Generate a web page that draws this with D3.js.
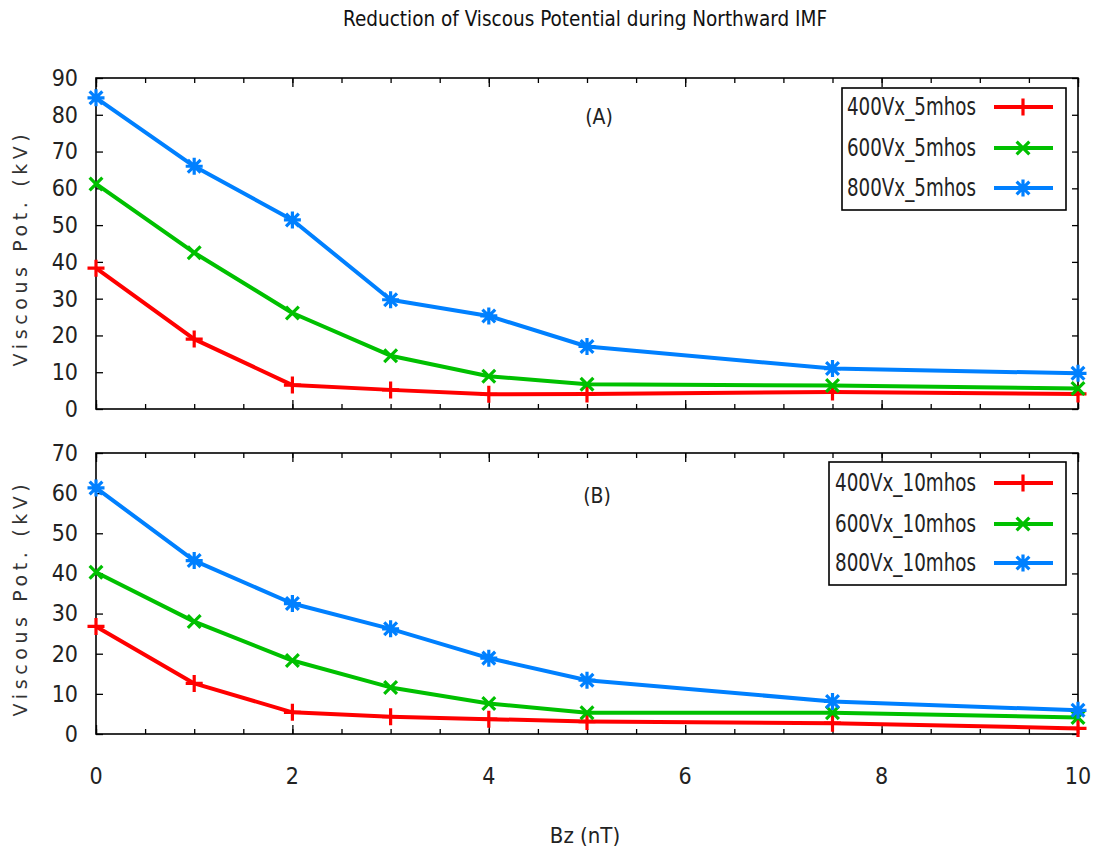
<!DOCTYPE html>
<html>
<head>
<meta charset="utf-8">
<script src="https://cdn.jsdelivr.net/npm/d3@7"></script>
<style>
  body { margin: 0; background: #fff; }
  svg { display: block; }
  .cond { font-family: "Liberation Sans Narrow", "DejaVu Sans Condensed", "Roboto Condensed", sans-serif; }
</style>
</head>
<body>
<svg id="chart" width="1093" height="857"></svg>
<script>
// ---- Data ----
const bz = [0, 1, 2, 3, 4, 5, 7.5, 10];
const seriesNamesA = ["400Vx_5mhos", "600Vx_5mhos", "800Vx_5mhos"];
const seriesNamesB = ["400Vx_10mhos", "600Vx_10mhos", "800Vx_10mhos"];
const a400 = [38.3, 19.0, 6.5, 5.2, 4.0, 4.1, 4.6, 4.1];
const a600 = [61.2, 42.5, 26.1, 14.5, 8.9, 6.7, 6.4, 5.6];
const a800 = [84.6, 66.0, 51.4, 29.7, 25.3, 17.0, 11.0, 9.7];
const b400 = [26.8, 12.6, 5.4, 4.3, 3.7, 3.1, 2.7, 1.4];
const b600 = [40.3, 28.0, 18.3, 11.6, 7.6, 5.3, 5.3, 4.1];
const b800 = [61.3, 43.2, 32.5, 26.2, 18.9, 13.4, 8.1, 5.9];
const yTicksA = [0, 10, 20, 30, 40, 50, 60, 70, 80, 90];
const yTicksB = [0, 10, 20, 30, 40, 50, 60, 70];
const xTickLabels = [0, 2, 4, 6, 8, 10];
const colors = ["#ff0000", "#00c000", "#0080ff"];
const markers = ["plus", "cross", "star"];

const svg = d3.select("#chart");
const left = 96, right = 1078;
const x = d3.scaleLinear().domain([0, 10]).range([left, right]);

function markerPath(type, s) {
  const p = d3.path();
  if (type === "plus" || type === "star") {
    p.moveTo(-s, 0); p.lineTo(s, 0);
    p.moveTo(0, -s); p.lineTo(0, s);
  }
  if (type === "cross" || type === "star") {
    const d = s * 0.75;
    p.moveTo(-d, -d); p.lineTo(d, d);
    p.moveTo(-d, d); p.lineTo(d, -d);
  }
  return p.toString();
}

function panel(cfg) {
  const y = d3.scaleLinear().domain([0, cfg.ymax]).range([cfg.bottom, cfg.top]);
  const g = svg.append("g");

  // minor ticks every 0.5, major every 2 on bottom & top
  const xMinor = d3.range(0, 10.001, 0.5);
  g.append("g").attr("transform", `translate(0,${cfg.bottom})`)
    .call(d3.axisBottom(x).tickValues(xMinor).tickSizeInner(-5).tickSizeOuter(0).tickFormat(""))
    .call(s => s.select(".domain").remove());
  g.append("g").attr("transform", `translate(0,${cfg.bottom})`)
    .call(d3.axisBottom(x).tickValues(xTickLabels).tickSizeInner(-9).tickSizeOuter(0).tickFormat(""))
    .call(s => s.select(".domain").remove());
  g.append("g").attr("transform", `translate(0,${cfg.top})`)
    .call(d3.axisTop(x).tickValues(xMinor).tickSizeInner(-5).tickSizeOuter(0).tickFormat(""))
    .call(s => s.select(".domain").remove());
  g.append("g").attr("transform", `translate(0,${cfg.top})`)
    .call(d3.axisTop(x).tickValues(xTickLabels).tickSizeInner(-9).tickSizeOuter(0).tickFormat(""))
    .call(s => s.select(".domain").remove());

  // y axes
  const yl = g.append("g").attr("transform", `translate(${left},0)`)
    .call(d3.axisLeft(y).tickValues(cfg.yTicks).tickSizeInner(-7).tickSizeOuter(0).tickPadding(18))
    .call(s => s.select(".domain").remove());
  yl.selectAll("text").attr("class", "cond").attr("font-size", 23).attr("fill", "#222");
  g.append("g").attr("transform", `translate(${right},0)`)
    .call(d3.axisRight(y).tickValues(cfg.yTicks).tickSizeInner(-6).tickSizeOuter(0).tickFormat(""))
    .call(s => s.select(".domain").remove());
  g.selectAll(".tick line").attr("stroke", "#000").attr("stroke-width", 1.3);

  // frame
  g.append("rect").attr("x", left).attr("y", cfg.top)
    .attr("width", right - left).attr("height", cfg.bottom - cfg.top)
    .attr("fill", "none").attr("stroke", "#000").attr("stroke-width", 1.6);

  // x tick labels
  if (cfg.xLabels) {
    g.selectAll(".xl").data(xTickLabels).enter().append("text")
      .attr("class", "cond").attr("x", d => x(d)).attr("y", 784)
      .attr("text-anchor", "middle").attr("font-size", 23).attr("fill", "#222")
      .text(d => d);
  }

  // y label
  g.append("text")
    .attr("transform", `translate(27,${cfg.labelY}) rotate(-90)`)
    .attr("text-anchor", "middle")
    .attr("font-family", "DejaVu Sans, sans-serif")
    .attr("font-size", 19).attr("letter-spacing", 4.6).attr("fill", "#333")
    .text("Viscous Pot. (kV)");

  // panel tag
  g.append("text").attr("class", "cond")
    .attr("x", cfg.tagX).attr("y", cfg.tagY).attr("text-anchor", "middle")
    .attr("font-size", 21).attr("fill", "#222").text(cfg.tag);

  // series
  const line = d3.line().x((d, i) => x(bz[i])).y(d => y(d));
  cfg.series.forEach((vals, k) => {
    g.append("path").datum(vals).attr("d", line)
      .attr("fill", "none").attr("stroke", colors[k]).attr("stroke-width", 4)
      .attr("stroke-linejoin", "round");
    g.selectAll(null).data(vals).enter().append("path")
      .attr("transform", (d, i) => `translate(${x(bz[i])},${y(d)})`)
      .attr("d", markerPath(markers[k], 8.5))
      .attr("fill", "none").attr("stroke", colors[k]).attr("stroke-width", 3.2);
  });

  // legend
  const L = cfg.legend;
  g.append("rect").attr("x", L.x0).attr("y", L.y0)
    .attr("width", L.x1 - L.x0).attr("height", L.y1 - L.y0)
    .attr("fill", "#fff").attr("stroke", "#000").attr("stroke-width", 1.6);
  cfg.names.forEach((name, k) => {
    const ry = L.rows[k];
    g.append("text").attr("class", "cond")
      .attr("x", 976).attr("y", ry + 8).attr("text-anchor", "end")
      .attr("font-size", 24).attr("fill", "#222")
      .attr("textLength", L.textW).attr("lengthAdjust", "spacingAndGlyphs")
      .text(name);
    g.append("line").attr("x1", 994).attr("x2", 1053).attr("y1", ry).attr("y2", ry)
      .attr("stroke", colors[k]).attr("stroke-width", 4);
    g.append("path").attr("transform", `translate(1023,${ry})`)
      .attr("d", markerPath(markers[k], 8.5))
      .attr("fill", "none").attr("stroke", colors[k]).attr("stroke-width", 3.2);
  });
}

panel({
  top: 78, bottom: 409, ymax: 90, yTicks: yTicksA, labelY: 248,
  tag: "(A)", tagX: 599, tagY: 124,
  series: [a400, a600, a800], names: seriesNamesA,
  legend: { x0: 842, x1: 1066, y0: 88, y1: 210, rows: [107, 148, 188], textW: 129 },
  xLabels: false
});
panel({
  top: 453, bottom: 734, ymax: 70, yTicks: yTicksB, labelY: 598,
  tag: "(B)", tagX: 597, tagY: 503,
  series: [b400, b600, b800], names: seriesNamesB,
  legend: { x0: 829, x1: 1066, y0: 462, y1: 585, rows: [483, 524, 563], textW: 141 },
  xLabels: true
});

// title & x label
svg.append("text").attr("class", "cond")
  .attr("x", 585).attr("y", 26).attr("text-anchor", "middle")
  .attr("font-size", 21).attr("fill", "#111")
  .attr("textLength", 484).attr("lengthAdjust", "spacingAndGlyphs")
  .text("Reduction of Viscous Potential during Northward IMF");
svg.append("text").attr("class", "cond")
  .attr("x", 585).attr("y", 843).attr("text-anchor", "middle")
  .attr("font-size", 22).attr("fill", "#222")
  .text("Bz (nT)");
</script>
</body>
</html>
